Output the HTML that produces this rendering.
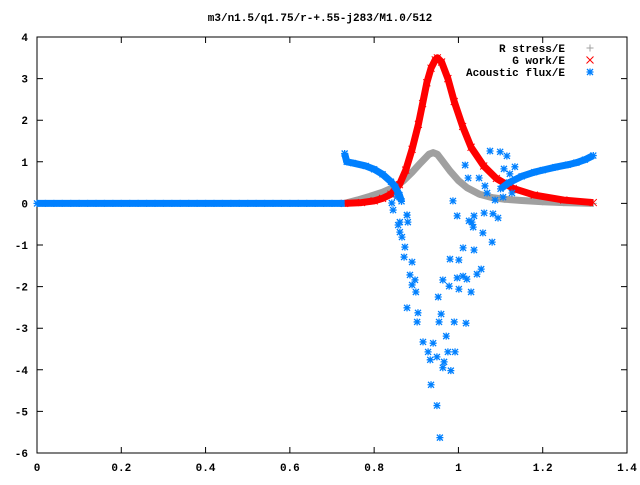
<!DOCTYPE html>
<html><head><meta charset="utf-8"><style>
body{margin:0;background:#fff}
svg text{font-family:"Liberation Mono",monospace;font-size:11px;font-weight:bold;fill:#000}
</style></head><body>
<svg id="chart" width="640" height="480" xmlns="http://www.w3.org/2000/svg">
<text x="320" y="21" text-anchor="middle">m3/n1.5/q1.75/r-+.55-j283/M1.0/512</text>
<g id="axes"></g>
<g id="series"></g>
<g id="legend"></g>
</svg>
<script>
const xTicks=[0,0.2,0.4,0.6,0.8,1,1.2,1.4];
const xTickLabels=["0","0.2","0.4","0.6","0.8","1","1.2","1.4"];
const yTicks=[4,3,2,1,0,-1,-2,-3,-4,-5,-6];
const yTickLabels=["4","3","2","1","0","-1","-2","-3","-4","-5","-6"];
const seriesNames=["R stress/E","G work/E","Acoustic flux/E"];
const rX=[0.73,0.76,0.79,0.82,0.85,0.87,0.89,0.91,0.93,0.94,0.95,0.96,0.98,1.0,1.02,1.05,1.08,1.11,1.15,1.2,1.25,1.32];
const rY=[0.0,0.08,0.17,0.27,0.4,0.55,0.75,0.97,1.18,1.22,1.18,1.05,0.78,0.55,0.38,0.22,0.14,0.1,0.07,0.04,0.02,0.0];
const gX=[0.73,0.77,0.8,0.82,0.84,0.86,0.875,0.89,0.905,0.915,0.925,0.935,0.945,0.95,0.96,0.975,0.99,1.01,1.03,1.06,1.09,1.13,1.18,1.25,1.32];
const gY=[0.0,0.02,0.06,0.12,0.22,0.45,0.8,1.3,1.9,2.4,2.9,3.25,3.45,3.5,3.4,3.0,2.45,1.85,1.35,0.9,0.6,0.36,0.2,0.08,0.02];
const aFlatX=[0,0.02,0.04,0.06,0.08,0.1,0.12,0.14,0.16,0.18,0.2,0.22,0.24,0.26,0.28,0.3,0.32,0.34,0.36,0.38,0.4,0.42,0.44,0.46,0.48,0.5,0.52,0.54,0.56,0.58,0.6,0.62,0.64,0.66,0.68,0.7,0.72];
const aFlatY=[0,0,0,0,0,0,0,0,0,0,0,0,0,0,0,0,0,0,0,0,0,0,0,0,0,0,0,0,0,0,0,0,0,0,0,0,0];
const aLeftX=[0.73,0.735,0.75,0.78,0.8,0.82,0.84,0.85,0.86,0.865];
const aLeftY=[1.2,1.0,0.97,0.9,0.82,0.7,0.52,0.4,0.2,0.05];
const aRightX=[1.1,1.12,1.15,1.18,1.2,1.23,1.26,1.28,1.3,1.32];
const aRightY=[0.35,0.5,0.65,0.75,0.8,0.87,0.93,0.98,1.05,1.15];
const aScatX=[0.987,0.997,1.032,1.035,1.058,1.080,1.011,1.037,0.980,1.001,1.054,1.044,0.963,0.997,1.020,1.011,0.978,1.001,1.030,0.952,0.878,0.904,0.959,0.954,0.990,1.018,0.902,0.971,0.916,0.940,0.975,0.992,0.928,0.949,0.933,0.966,0.963,0.982,0.935,0.949,0.956,0.873,0.871,0.890,0.885,0.897,0.890,0.899,0.861,0.866,0.857,0.878,0.880,0.845,1.075,1.099,1.115,1.016,1.023,1.049,1.063,1.108,1.122,1.134,1.068,1.087,1.106,1.127,1.061,1.082,1.094,1.025,1.037,0.854,0.842,0.878,0.861];
const aScatY=[0.06,-0.30,-0.45,-0.57,-0.71,-0.93,-1.07,-1.12,-1.34,-1.36,-1.58,-1.70,-1.84,-1.79,-1.82,-1.75,-1.99,-2.06,-2.13,-2.25,-2.51,-2.63,-2.66,-2.85,-2.85,-2.88,-2.85,-3.19,-3.33,-3.36,-3.57,-3.57,-3.57,-3.69,-3.76,-3.81,-3.95,-4.02,-4.36,-4.86,-5.63,-1.05,-1.29,-1.41,-1.72,-1.84,-1.96,-2.13,-0.69,-0.81,-0.52,-0.28,-0.45,-0.16,1.26,1.24,1.14,0.92,0.61,0.61,0.42,0.83,0.71,0.88,0.25,0.08,0.15,0.25,-0.23,-0.25,-0.35,-0.42,-0.30,0.16,0.01,-0.28,-0.45];

const L=37,R=627,T=37,B=453;
const xs=v=>L+(v-0)/(1.4-0)*(R-L);
const ys=v=>T+(4-v)/(4-(-6))*(B-T);
const NS="http://www.w3.org/2000/svg";
function mk(tag,attrs,parent){const e=document.createElementNS(NS,tag);for(const k in attrs)e.setAttribute(k,attrs[k]);parent.appendChild(e);return e;}
const axes=document.getElementById('axes'),ser=document.getElementById('series'),leg=document.getElementById('legend');
const frame=mk('rect',{x:L,y:T,width:R-L,height:B-T,fill:'none',stroke:'#000','stroke-width':1},axes);


xTicks.forEach((v,i)=>{const x=xs(v);
 const t=mk('path',{d:`M${x},${B}v-6M${x},${T}v6`,stroke:'#000'},axes);
 
 
 const l=mk('text',{x:x,y:B+18,'text-anchor':'middle'},axes);l.textContent=xTickLabels[i];
 
 });
yTicks.forEach((v,i)=>{const y=ys(v);
 const t=mk('path',{d:`M${L},${y}h6M${R},${y}h-6`,stroke:'#000'},axes);
 
 
 const l=mk('text',{x:L-9,y:y+4,'text-anchor':'end'},axes);l.textContent=yTickLabels[i];
 
 });
function plus(g,x,y,c){mk('path',{d:`M${x-3.5},${y}h7M${x},${y-3.5}v7`,stroke:c,'stroke-width':1},g);}
function cross(g,x,y,c){mk('path',{d:`M${x-3.5},${y-3.5}l7,7M${x-3.5},${y+3.5}l7,-7`,stroke:c,'stroke-width':1},g);}
function star(g,x,y,c){mk('path',{d:`M${x-3.5},${y}h7M${x},${y-3.5}v7M${x-3},${y-3}l6,6M${x-3},${y+3}l6,-6`,stroke:c,'stroke-width':1.3},g);}
function band(g,X,Y,c,w){mk('polyline',{points:X.map((v,i)=>xs(v)+','+ys(Y[i])).join(' '),fill:'none',stroke:c,'stroke-width':w,'stroke-linejoin':'round'},g);}
const gR=mk('g',{},ser);
band(gR,rX,rY,'#a0a0a0',7);rX.forEach((v,i)=>plus(gR,xs(v),ys(rY[i]),'#a0a0a0'));
const gG=mk('g',{},ser);
band(gG,gX,gY,'#ff0000',7);gX.forEach((v,i)=>cross(gG,xs(v),ys(gY[i]),'#ff0000'));
const gA=mk('g',{},ser);
const blue='#0080ff';
band(gA,aFlatX.concat([0.73]),aFlatY.concat([0]),blue,7);
band(gA,aLeftX,aLeftY,blue,7);band(gA,aRightX,aRightY,blue,7);
[[aFlatX,aFlatY],[aLeftX,aLeftY],[aRightX,aRightY],[aScatX,aScatY]].forEach(([X,Y])=>X.forEach((v,i)=>star(gA,xs(v),ys(Y[i]),blue)));
const cols=['#a0a0a0','#ff0000',blue],fns=[plus,cross,star];
seriesNames.forEach((n,i)=>{const y=48+i*12;
 const e=mk('g',{},leg);
 
 
 const t=mk('text',{x:565,y:y+4,'text-anchor':'end','font-size':'12px'},e);t.textContent=n;
 fns[i](e,590,y,cols[i]);});
</script>
</body></html>
